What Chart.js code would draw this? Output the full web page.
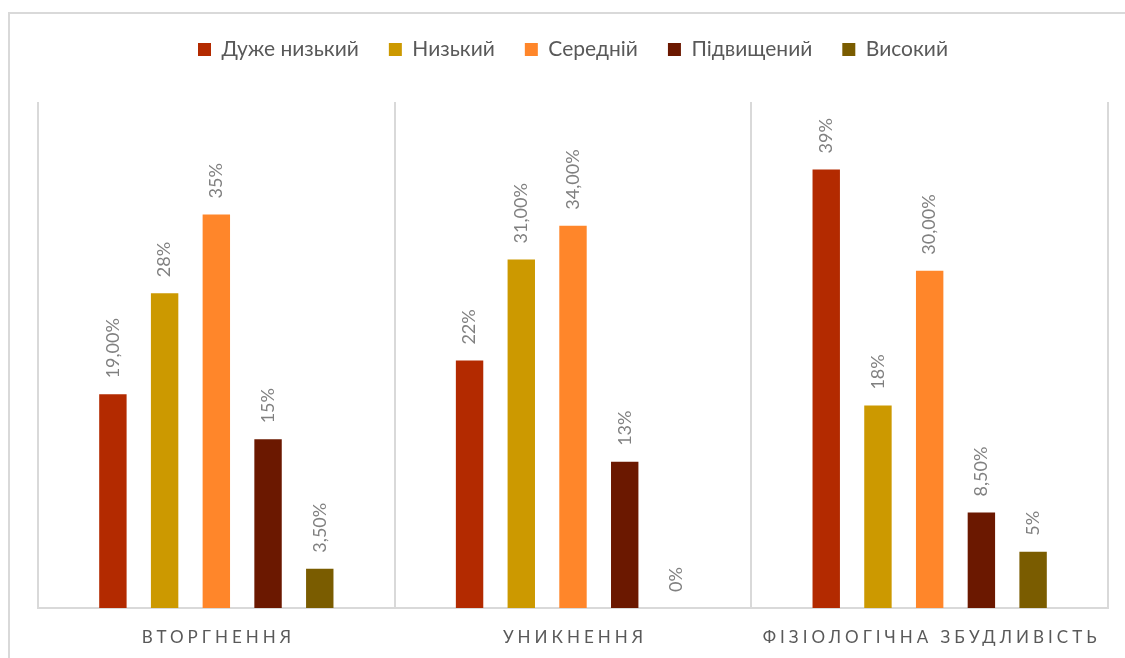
<!DOCTYPE html>
<html lang="uk">
<head>
<meta charset="utf-8">
<title>Рівні проявів за шкалами</title>
<script src="https://cdn.jsdelivr.net/npm/chart.js@4.4.1/dist/chart.umd.min.js"></script>
<style>
  html, body { margin: 0; padding: 0; background: #ffffff; overflow: hidden; }
  #wrap { position: relative; width: 1125px; height: 658px; overflow: hidden; }
  #frame { position: absolute; left: 8px; top: 12px; width: 1300px; height: 800px;
           border: 2px solid #d9d9d9; box-sizing: border-box; pointer-events: none; }
  canvas { position: absolute; left: 0; top: 0; }
</style>
</head>
<body>
<div id="wrap">
  <div id="frame"></div>
  <canvas id="chart" width="1125" height="658"></canvas>
</div>
<script>
// Scales (categories) and level series, in percent
const categories = ['ВТОРГНЕННЯ', 'УНИКНЕННЯ', 'ФІЗІОЛОГІЧНА ЗБУДЛИВІСТЬ'];
const seriesNames = ['Дуже низький', 'Низький', 'Середній', 'Підвищений', 'Високий'];

const veryLow  = [19, 22, 39];
const low      = [28, 31, 18];
const medium   = [35, 34, 30];
const elevated = [15, 13, 8.5];
const high     = [3.5, 0, 5];

// Number of decimals shown in each value label
const veryLowDecimals  = [2, 0, 0];
const lowDecimals      = [0, 2, 0];
const mediumDecimals   = [0, 2, 2];
const elevatedDecimals = [0, 0, 2];
const highDecimals     = [2, 0, 0];

const seriesColors = ['#B32A00', '#CC9900', '#FF862A', '#6B1800', '#7A5C00'];

const seriesValues = [veryLow, low, medium, elevated, high];
const seriesDecimals = [veryLowDecimals, lowDecimals, mediumDecimals, elevatedDecimals, highDecimals];

const FONT = 'Lato, "Open Sans", "Noto Sans", sans-serif';
const CAPTION_SPACING = 4;

function formatPercent(v, d) {
  return v.toFixed(d).replace('.', ',') + '%';
}

// Vertical value labels above each bar
const barValueLabels = {
  id: 'barValueLabels',
  afterDatasetsDraw(chart) {
    const ctx = chart.ctx;
    chart.data.datasets.forEach((ds, i) => {
      const meta = chart.getDatasetMeta(i);
      meta.data.forEach((bar, j) => {
        const text = formatPercent(ds.data[j], ds.decimals[j]);
        ctx.save();
        ctx.translate(bar.x, bar.y - 16);
        ctx.rotate(-Math.PI / 2);
        ctx.font = '18px ' + FONT;
        ctx.fillStyle = '#808080';
        ctx.textAlign = 'left';
        ctx.textBaseline = 'middle';
        ctx.fillText(text, 0, 0);
        ctx.restore();
      });
    });
  }
};

// Extra room under the legend and spaced-out category captions
const layoutTweaks = {
  id: 'layoutTweaks',
  beforeInit(chart) {
    const legend = chart.legend;
    if (legend) {
      const fit = legend.fit;
      legend.fit = function () {
        fit.call(this);
        this.height += 32;
      };
    }
  },
  afterLayout(chart) {
    const xs = chart.scales.x;
    if (xs && !xs._spaced) {
      const draw = xs.drawLabels;
      xs.drawLabels = function (area) {
        const ctx = this.ctx;
        ctx.save();
        ctx.letterSpacing = CAPTION_SPACING + 'px';
        ctx.translate(CAPTION_SPACING / 2, 0);
        draw.call(this, area);
        ctx.restore();
      };
      xs._spaced = true;
    }
  }
};

new Chart(document.getElementById('chart'), {
  type: 'bar',
  data: {
    labels: categories,
    datasets: seriesNames.map((name, i) => ({
      label: name,
      data: seriesValues[i],
      decimals: seriesDecimals[i],
      backgroundColor: seriesColors[i],
      borderWidth: 0,
      categoryPercentage: 0.725,
      barPercentage: 0.53
    }))
  },
  options: {
    responsive: false,
    animation: false,
    layout: { padding: { left: 38, right: 17, top: 9, bottom: 10 } },
    plugins: {
      legend: {
        position: 'top',
        labels: {
          boxWidth: 13,
          boxHeight: 13,
          padding: 30,
          color: '#595959',
          font: { family: FONT, size: 21 }
        }
      },
      tooltip: { enabled: false }
    },
    scales: {
      x: {
        grid: {
          display: true,
          offset: true,
          color: '#d9d9d9',
          lineWidth: 2,
          drawTicks: false
        },
        border: { display: true, color: '#d9d9d9', width: 2 },
        ticks: {
          color: '#595959',
          padding: 19,
          font: { family: FONT, size: 17 }
        },
        afterFit(scale) {
          scale.height = 40;
        }
      },
      y: {
        display: false,
        min: 0,
        max: 45
      }
    }
  },
  plugins: [barValueLabels, layoutTweaks]
});
</script>
</body>
</html>
